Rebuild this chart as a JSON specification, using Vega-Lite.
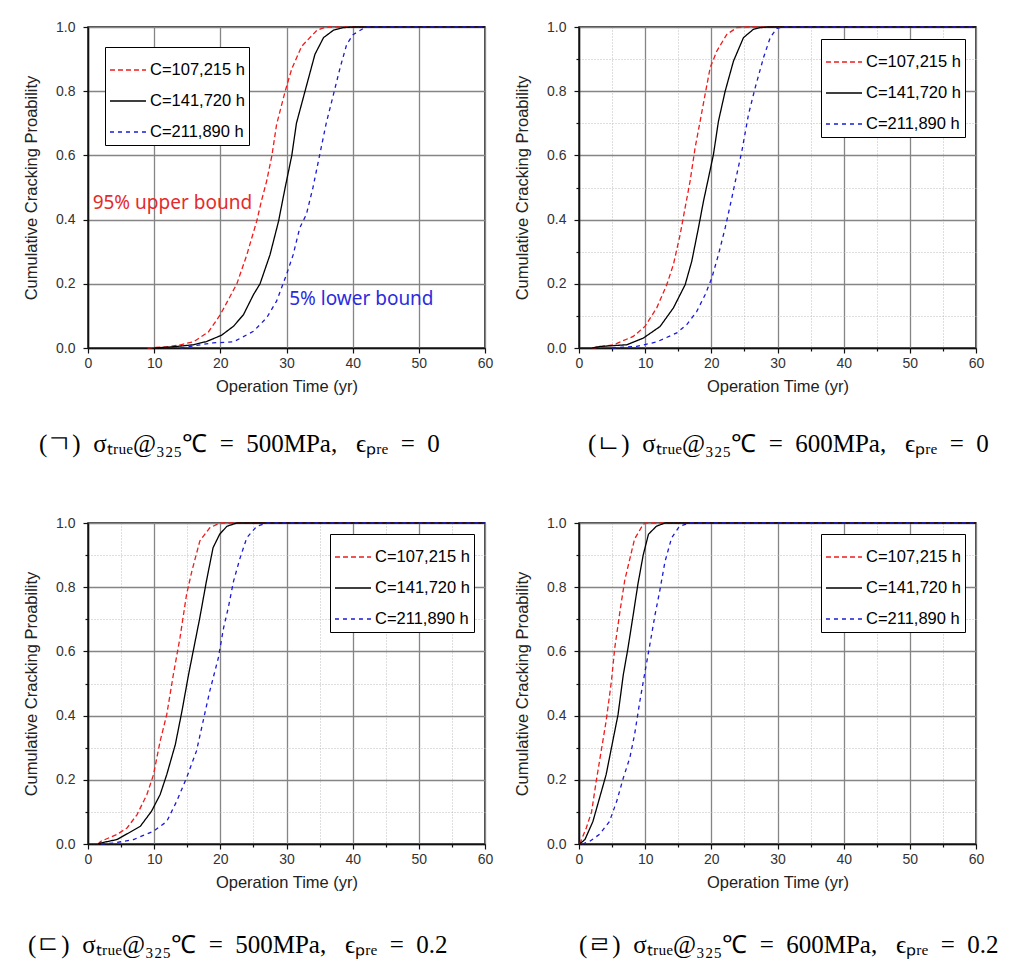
{
"$schema": "https://vega.github.io/schema/vega-lite/v6.json",
"background": "white",
"padding": {"left": 22, "top": 19, "right": 5, "bottom": 5},
"autosize": {"type": "pad"},
"datasets": {
"p1": [
{"s":"C=107,215 h","t":9,"y":0},{"s":"C=107,215 h","t":12,"y":0.004},{"s":"C=107,215 h","t":14,"y":0.01},{"s":"C=107,215 h","t":16,"y":0.02},{"s":"C=107,215 h","t":18.2,"y":0.05},{"s":"C=107,215 h","t":20,"y":0.104},{"s":"C=107,215 h","t":22.5,"y":0.2},{"s":"C=107,215 h","t":24,"y":0.29},{"s":"C=107,215 h","t":25.5,"y":0.395},{"s":"C=107,215 h","t":26.2,"y":0.457},{"s":"C=107,215 h","t":27,"y":0.52},{"s":"C=107,215 h","t":27.8,"y":0.6},{"s":"C=107,215 h","t":28.5,"y":0.696},{"s":"C=107,215 h","t":29.8,"y":0.8},{"s":"C=107,215 h","t":30.8,"y":0.87},{"s":"C=107,215 h","t":32.3,"y":0.94},{"s":"C=107,215 h","t":34.6,"y":0.99},{"s":"C=107,215 h","t":36,"y":1},{"s":"C=107,215 h","t":60,"y":1},
{"s":"C=141,720 h","t":10,"y":0},{"s":"C=141,720 h","t":13,"y":0.004},{"s":"C=141,720 h","t":15.9,"y":0.01},{"s":"C=141,720 h","t":17.9,"y":0.02},{"s":"C=141,720 h","t":20.2,"y":0.04},{"s":"C=141,720 h","t":22,"y":0.068},{"s":"C=141,720 h","t":23.5,"y":0.104},{"s":"C=141,720 h","t":25,"y":0.166},{"s":"C=141,720 h","t":26,"y":0.2},{"s":"C=141,720 h","t":27.5,"y":0.29},{"s":"C=141,720 h","t":28.8,"y":0.395},{"s":"C=141,720 h","t":29.8,"y":0.5},{"s":"C=141,720 h","t":30.8,"y":0.6},{"s":"C=141,720 h","t":31.5,"y":0.7},{"s":"C=141,720 h","t":32.8,"y":0.8},{"s":"C=141,720 h","t":34.3,"y":0.915},{"s":"C=141,720 h","t":35.6,"y":0.967},{"s":"C=141,720 h","t":37.1,"y":0.99},{"s":"C=141,720 h","t":38.6,"y":0.998},{"s":"C=141,720 h","t":40,"y":1},{"s":"C=141,720 h","t":60,"y":1},
{"s":"C=211,890 h","t":14,"y":0},{"s":"C=211,890 h","t":17,"y":0.01},{"s":"C=211,890 h","t":18.9,"y":0.016},{"s":"C=211,890 h","t":22,"y":0.019},{"s":"C=211,890 h","t":25,"y":0.052},{"s":"C=211,890 h","t":27,"y":0.094},{"s":"C=211,890 h","t":28.5,"y":0.146},{"s":"C=211,890 h","t":30,"y":0.229},{"s":"C=211,890 h","t":31,"y":0.29},{"s":"C=211,890 h","t":32,"y":0.374},{"s":"C=211,890 h","t":33,"y":0.416},{"s":"C=211,890 h","t":34,"y":0.5},{"s":"C=211,890 h","t":35,"y":0.6},{"s":"C=211,890 h","t":36,"y":0.7},{"s":"C=211,890 h","t":37.1,"y":0.79},{"s":"C=211,890 h","t":38.1,"y":0.873},{"s":"C=211,890 h","t":39.1,"y":0.946},{"s":"C=211,890 h","t":40.1,"y":0.977},{"s":"C=211,890 h","t":42,"y":1},{"s":"C=211,890 h","t":60,"y":1}
],
"p2": [
{"s":"C=107,215 h","t":2,"y":0},{"s":"C=107,215 h","t":5.2,"y":0.01},{"s":"C=107,215 h","t":8.2,"y":0.036},{"s":"C=107,215 h","t":10,"y":0.068},{"s":"C=107,215 h","t":11.75,"y":0.125},{"s":"C=107,215 h","t":13.26,"y":0.197},{"s":"C=107,215 h","t":14.27,"y":0.26},{"s":"C=107,215 h","t":15.28,"y":0.353},{"s":"C=107,215 h","t":16.04,"y":0.437},{"s":"C=107,215 h","t":16.79,"y":0.52},{"s":"C=107,215 h","t":17.55,"y":0.624},{"s":"C=107,215 h","t":18.31,"y":0.707},{"s":"C=107,215 h","t":19.06,"y":0.79},{"s":"C=107,215 h","t":19.82,"y":0.873},{"s":"C=107,215 h","t":20.83,"y":0.925},{"s":"C=107,215 h","t":22.34,"y":0.977},{"s":"C=107,215 h","t":23.85,"y":0.998},{"s":"C=107,215 h","t":25,"y":1},{"s":"C=107,215 h","t":60,"y":1},
{"s":"C=141,720 h","t":2,"y":0},{"s":"C=141,720 h","t":3.2,"y":0.005},{"s":"C=141,720 h","t":7.2,"y":0.01},{"s":"C=141,720 h","t":9.73,"y":0.031},{"s":"C=141,720 h","t":12.25,"y":0.067},{"s":"C=141,720 h","t":14.27,"y":0.125},{"s":"C=141,720 h","t":16.04,"y":0.197},{"s":"C=141,720 h","t":17.04,"y":0.27},{"s":"C=141,720 h","t":18.05,"y":0.374},{"s":"C=141,720 h","t":18.81,"y":0.457},{"s":"C=141,720 h","t":19.57,"y":0.53},{"s":"C=141,720 h","t":20.32,"y":0.603},{"s":"C=141,720 h","t":21.08,"y":0.707},{"s":"C=141,720 h","t":22.09,"y":0.8},{"s":"C=141,720 h","t":23.35,"y":0.894},{"s":"C=141,720 h","t":24.86,"y":0.967},{"s":"C=141,720 h","t":26.37,"y":0.993},{"s":"C=141,720 h","t":27.38,"y":0.998},{"s":"C=141,720 h","t":28.5,"y":1},{"s":"C=141,720 h","t":60,"y":1},
{"s":"C=211,890 h","t":5,"y":0},{"s":"C=211,890 h","t":8.72,"y":0.005},{"s":"C=211,890 h","t":11.75,"y":0.019},{"s":"C=211,890 h","t":14.78,"y":0.047},{"s":"C=211,890 h","t":16.29,"y":0.073},{"s":"C=211,890 h","t":17.8,"y":0.114},{"s":"C=211,890 h","t":19.06,"y":0.166},{"s":"C=211,890 h","t":20.07,"y":0.218},{"s":"C=211,890 h","t":21.08,"y":0.291},{"s":"C=211,890 h","t":22.09,"y":0.374},{"s":"C=211,890 h","t":23.1,"y":0.468},{"s":"C=211,890 h","t":23.85,"y":0.541},{"s":"C=211,890 h","t":24.61,"y":0.613},{"s":"C=211,890 h","t":25.62,"y":0.728},{"s":"C=211,890 h","t":26.63,"y":0.811},{"s":"C=211,890 h","t":27.89,"y":0.905},{"s":"C=211,890 h","t":28.9,"y":0.967},{"s":"C=211,890 h","t":29.9,"y":0.996},{"s":"C=211,890 h","t":31,"y":1},{"s":"C=211,890 h","t":60,"y":1}
],
"p3": [
{"s":"C=107,215 h","t":1.5,"y":0},{"s":"C=107,215 h","t":1.9,"y":0.008},{"s":"C=107,215 h","t":4.4,"y":0.03},{"s":"C=107,215 h","t":5.9,"y":0.05},{"s":"C=107,215 h","t":7.4,"y":0.091},{"s":"C=107,215 h","t":8.9,"y":0.154},{"s":"C=107,215 h","t":9.9,"y":0.216},{"s":"C=107,215 h","t":10.9,"y":0.32},{"s":"C=107,215 h","t":11.9,"y":0.403},{"s":"C=107,215 h","t":12.9,"y":0.528},{"s":"C=107,215 h","t":13.9,"y":0.642},{"s":"C=107,215 h","t":14.9,"y":0.778},{"s":"C=107,215 h","t":15.7,"y":0.85},{"s":"C=107,215 h","t":16.9,"y":0.944},{"s":"C=107,215 h","t":18.4,"y":0.985},{"s":"C=107,215 h","t":19.9,"y":1},{"s":"C=107,215 h","t":60,"y":1},
{"s":"C=141,720 h","t":1.5,"y":0},{"s":"C=141,720 h","t":1.9,"y":0.003},{"s":"C=141,720 h","t":4.4,"y":0.014},{"s":"C=141,720 h","t":7.9,"y":0.055},{"s":"C=141,720 h","t":9.6,"y":0.102},{"s":"C=141,720 h","t":10.9,"y":0.154},{"s":"C=141,720 h","t":11.9,"y":0.216},{"s":"C=141,720 h","t":13.2,"y":0.31},{"s":"C=141,720 h","t":14.2,"y":0.414},{"s":"C=141,720 h","t":15.2,"y":0.528},{"s":"C=141,720 h","t":16.2,"y":0.632},{"s":"C=141,720 h","t":16.9,"y":0.705},{"s":"C=141,720 h","t":17.9,"y":0.819},{"s":"C=141,720 h","t":18.9,"y":0.923},{"s":"C=141,720 h","t":19.9,"y":0.965},{"s":"C=141,720 h","t":21,"y":0.99},{"s":"C=141,720 h","t":22.5,"y":1},{"s":"C=141,720 h","t":60,"y":1},
{"s":"C=211,890 h","t":2,"y":0},{"s":"C=211,890 h","t":3.9,"y":0.003},{"s":"C=211,890 h","t":6.9,"y":0.014},{"s":"C=211,890 h","t":9.9,"y":0.04},{"s":"C=211,890 h","t":11.9,"y":0.07},{"s":"C=211,890 h","t":13.4,"y":0.133},{"s":"C=211,890 h","t":14.9,"y":0.206},{"s":"C=211,890 h","t":16.4,"y":0.29},{"s":"C=211,890 h","t":17.4,"y":0.383},{"s":"C=211,890 h","t":18.4,"y":0.476},{"s":"C=211,890 h","t":19.7,"y":0.58},{"s":"C=211,890 h","t":20.5,"y":0.674},{"s":"C=211,890 h","t":21.2,"y":0.736},{"s":"C=211,890 h","t":22,"y":0.819},{"s":"C=211,890 h","t":23,"y":0.892},{"s":"C=211,890 h","t":24,"y":0.954},{"s":"C=211,890 h","t":25.5,"y":0.99},{"s":"C=211,890 h","t":27,"y":1},{"s":"C=211,890 h","t":60,"y":1}
],
"p4": [
{"s":"C=107,215 h","t":0.1,"y":0},{"s":"C=107,215 h","t":1.1,"y":0.05},{"s":"C=107,215 h","t":1.9,"y":0.1},{"s":"C=107,215 h","t":2.6,"y":0.195},{"s":"C=107,215 h","t":3.1,"y":0.258},{"s":"C=107,215 h","t":4.1,"y":0.383},{"s":"C=107,215 h","t":4.9,"y":0.507},{"s":"C=107,215 h","t":5.4,"y":0.61},{"s":"C=107,215 h","t":6.2,"y":0.726},{"s":"C=107,215 h","t":6.9,"y":0.82},{"s":"C=107,215 h","t":7.7,"y":0.89},{"s":"C=107,215 h","t":8.4,"y":0.95},{"s":"C=107,215 h","t":9.7,"y":0.996},{"s":"C=107,215 h","t":10.2,"y":1},{"s":"C=107,215 h","t":60,"y":1},
{"s":"C=141,720 h","t":0.1,"y":0},{"s":"C=141,720 h","t":0.9,"y":0.014},{"s":"C=141,720 h","t":2.1,"y":0.07},{"s":"C=141,720 h","t":3.1,"y":0.143},{"s":"C=141,720 h","t":4.1,"y":0.216},{"s":"C=141,720 h","t":5.1,"y":0.32},{"s":"C=141,720 h","t":5.9,"y":0.403},{"s":"C=141,720 h","t":6.7,"y":0.528},{"s":"C=141,720 h","t":7.4,"y":0.61},{"s":"C=141,720 h","t":8.2,"y":0.715},{"s":"C=141,720 h","t":8.9,"y":0.809},{"s":"C=141,720 h","t":9.7,"y":0.9},{"s":"C=141,720 h","t":10.5,"y":0.965},{"s":"C=141,720 h","t":11.7,"y":0.99},{"s":"C=141,720 h","t":13,"y":1},{"s":"C=141,720 h","t":60,"y":1},
{"s":"C=211,890 h","t":0.5,"y":0},{"s":"C=211,890 h","t":1.6,"y":0.008},{"s":"C=211,890 h","t":3.1,"y":0.03},{"s":"C=211,890 h","t":4.6,"y":0.07},{"s":"C=211,890 h","t":5.7,"y":0.133},{"s":"C=211,890 h","t":6.7,"y":0.206},{"s":"C=211,890 h","t":7.7,"y":0.27},{"s":"C=211,890 h","t":8.4,"y":0.341},{"s":"C=211,890 h","t":9.2,"y":0.445},{"s":"C=211,890 h","t":9.9,"y":0.528},{"s":"C=211,890 h","t":10.7,"y":0.62},{"s":"C=211,890 h","t":11.5,"y":0.715},{"s":"C=211,890 h","t":12.2,"y":0.788},{"s":"C=211,890 h","t":13,"y":0.88},{"s":"C=211,890 h","t":14,"y":0.954},{"s":"C=211,890 h","t":15.2,"y":0.99},{"s":"C=211,890 h","t":16.8,"y":1},{"s":"C=211,890 h","t":60,"y":1}
],
"upper": [{"t": 0.7, "y": 0.453, "note": "95% upper bound"}],
"lower": [{"t": 30.4, "y": 0.153, "note": "5% lower bound"}]
},
"columns": 2,
"spacing": {"row": 175, "column": 94},
"bounds": "flush",
"resolve": {"scale": {"color": "independent", "strokeDash": "independent"}, "legend": {"color": "independent", "strokeDash": "independent"}},
"concat": [
{
"width": 397, "height": 321,
"title": {"text": "(ㄱ)\u00a0 σₜᵣᵤₑ@₃₂₅℃\u00a0 =\u00a0 500MPa,\u00a0\u00a0 ϵₚᵣₑ\u00a0 =\u00a0 0", "dx": -49, "offset": 37},
"layer": [
{"data": {"name": "p1"}, "mark": {"type": "line", "strokeWidth": 1.3},
"encoding": {
"x": {"field": "t", "type": "quantitative", "scale": {"domain": [0, 60], "nice": false}, "axis": {"title": "Operation Time (yr)", "values": [0,5,10,15,20,25,30,35,40,45,50,55,60], "labelExpr": "datum.value % 10 === 0 ? datum.label : ''", "gridColor": {"condition": {"test": "datum.value % 10 !== 0", "value": "#bdbdbd"}, "value": "#858585"}, "gridDash": {"condition": {"test": "datum.value % 10 !== 0", "value": [1, 2]}, "value": []}, "gridWidth": {"condition": {"test": "datum.value % 10 !== 0", "value": 1}, "value": 1.3}, "tickSize": {"condition": {"test": "datum.value % 10 !== 0", "value": 3}, "value": 5}}},
"y": {"field": "y", "type": "quantitative", "scale": {"domain": [0, 1], "nice": false}, "axis": {"title": "Cumulative Cracking Proability", "values": [0,0.1,0.2,0.3,0.4,0.5,0.6,0.7,0.8,0.9,1], "format": ".1f", "labelExpr": "round(datum.value*10) % 2 === 0 ? datum.label : ''", "gridColor": {"condition": {"test": "round(datum.value*10) % 2 !== 0", "value": "#bdbdbd"}, "value": "#858585"}, "gridDash": {"condition": {"test": "round(datum.value*10) % 2 !== 0", "value": [1, 2]}, "value": []}, "gridWidth": {"condition": {"test": "round(datum.value*10) % 2 !== 0", "value": 1}, "value": 1.3}, "tickSize": {"condition": {"test": "round(datum.value*10) % 2 !== 0", "value": 3}, "value": 5}}},
"color": {"field": "s", "type": "nominal", "scale": {"domain": ["C=107,215 h", "C=141,720 h", "C=211,890 h"], "range": ["#ee1c1c", "#000000", "#1a1ad6"]}, "legend": {"orient": "none", "legendX": 17, "legendY": 20}},
"strokeDash": {"field": "s", "type": "nominal", "scale": {"domain": ["C=107,215 h", "C=141,720 h", "C=211,890 h"], "range": [[5, 3], [1, 0], [4, 4]]}, "legend": {"orient": "none", "legendX": 17, "legendY": 20}}
}},
{"data": {"name": "upper"}, "mark": {"type": "text", "align": "left", "baseline": "middle", "font": "Noto Sans", "fontSize": 19, "color": "#e52b2b"},
"encoding": {"x": {"field": "t", "type": "quantitative"}, "y": {"field": "y", "type": "quantitative"}, "text": {"field": "note"}}},
{"data": {"name": "lower"}, "mark": {"type": "text", "align": "left", "baseline": "middle", "font": "Noto Sans", "fontSize": 19, "color": "#2b2be0"},
"encoding": {"x": {"field": "t", "type": "quantitative"}, "y": {"field": "y", "type": "quantitative"}, "text": {"field": "note"}}}
]
},
{
"width": 397, "height": 321,
"title": {"text": "(ㄴ)\u00a0 σₜᵣᵤₑ@₃₂₅℃\u00a0 =\u00a0 600MPa,\u00a0\u00a0 ϵₚᵣₑ\u00a0 =\u00a0 0", "dx": 9, "offset": 37},
"layer": [
{"data": {"name": "p2"}, "mark": {"type": "line", "strokeWidth": 1.3},
"encoding": {
"x": {"field": "t", "type": "quantitative", "scale": {"domain": [0, 60], "nice": false}, "axis": {"title": "Operation Time (yr)", "values": [0,5,10,15,20,25,30,35,40,45,50,55,60], "labelExpr": "datum.value % 10 === 0 ? datum.label : ''", "gridColor": {"condition": {"test": "datum.value % 10 !== 0", "value": "#bdbdbd"}, "value": "#858585"}, "gridDash": {"condition": {"test": "datum.value % 10 !== 0", "value": [1, 2]}, "value": []}, "gridWidth": {"condition": {"test": "datum.value % 10 !== 0", "value": 1}, "value": 1.3}, "tickSize": {"condition": {"test": "datum.value % 10 !== 0", "value": 3}, "value": 5}}},
"y": {"field": "y", "type": "quantitative", "scale": {"domain": [0, 1], "nice": false}, "axis": {"title": "Cumulative Cracking Proability", "values": [0,0.1,0.2,0.3,0.4,0.5,0.6,0.7,0.8,0.9,1], "format": ".1f", "labelExpr": "round(datum.value*10) % 2 === 0 ? datum.label : ''", "gridColor": {"condition": {"test": "round(datum.value*10) % 2 !== 0", "value": "#bdbdbd"}, "value": "#858585"}, "gridDash": {"condition": {"test": "round(datum.value*10) % 2 !== 0", "value": [1, 2]}, "value": []}, "gridWidth": {"condition": {"test": "round(datum.value*10) % 2 !== 0", "value": 1}, "value": 1.3}, "tickSize": {"condition": {"test": "round(datum.value*10) % 2 !== 0", "value": 3}, "value": 5}}},
"color": {"field": "s", "type": "nominal", "scale": {"domain": ["C=107,215 h", "C=141,720 h", "C=211,890 h"], "range": ["#ee1c1c", "#000000", "#1a1ad6"]}, "legend": {"orient": "none", "legendX": 242, "legendY": 12}},
"strokeDash": {"field": "s", "type": "nominal", "scale": {"domain": ["C=107,215 h", "C=141,720 h", "C=211,890 h"], "range": [[5, 3], [1, 0], [4, 4]]}, "legend": {"orient": "none", "legendX": 242, "legendY": 12}}
}}
]
},
{
"width": 397, "height": 321,
"title": {"text": "(ㄷ)\u00a0 σₜᵣᵤₑ@₃₂₅℃\u00a0 =\u00a0 500MPa,\u00a0\u00a0 ϵₚᵣₑ\u00a0 =\u00a0 0.2", "dx": -60, "offset": 42},
"layer": [
{"data": {"name": "p3"}, "mark": {"type": "line", "strokeWidth": 1.3},
"encoding": {
"x": {"field": "t", "type": "quantitative", "scale": {"domain": [0, 60], "nice": false}, "axis": {"title": "Operation Time (yr)", "values": [0,5,10,15,20,25,30,35,40,45,50,55,60], "labelExpr": "datum.value % 10 === 0 ? datum.label : ''", "gridColor": {"condition": {"test": "datum.value % 10 !== 0", "value": "#bdbdbd"}, "value": "#858585"}, "gridDash": {"condition": {"test": "datum.value % 10 !== 0", "value": [1, 2]}, "value": []}, "gridWidth": {"condition": {"test": "datum.value % 10 !== 0", "value": 1}, "value": 1.3}, "tickSize": {"condition": {"test": "datum.value % 10 !== 0", "value": 3}, "value": 5}}},
"y": {"field": "y", "type": "quantitative", "scale": {"domain": [0, 1], "nice": false}, "axis": {"title": "Cumulative Cracking Proability", "values": [0,0.1,0.2,0.3,0.4,0.5,0.6,0.7,0.8,0.9,1], "format": ".1f", "labelExpr": "round(datum.value*10) % 2 === 0 ? datum.label : ''", "gridColor": {"condition": {"test": "round(datum.value*10) % 2 !== 0", "value": "#bdbdbd"}, "value": "#858585"}, "gridDash": {"condition": {"test": "round(datum.value*10) % 2 !== 0", "value": [1, 2]}, "value": []}, "gridWidth": {"condition": {"test": "round(datum.value*10) % 2 !== 0", "value": 1}, "value": 1.3}, "tickSize": {"condition": {"test": "round(datum.value*10) % 2 !== 0", "value": 3}, "value": 5}}},
"color": {"field": "s", "type": "nominal", "scale": {"domain": ["C=107,215 h", "C=141,720 h", "C=211,890 h"], "range": ["#ee1c1c", "#000000", "#1a1ad6"]}, "legend": {"orient": "none", "legendX": 242, "legendY": 11}},
"strokeDash": {"field": "s", "type": "nominal", "scale": {"domain": ["C=107,215 h", "C=141,720 h", "C=211,890 h"], "range": [[5, 3], [1, 0], [4, 4]]}, "legend": {"orient": "none", "legendX": 242, "legendY": 11}}
}}
]
},
{
"width": 397, "height": 321,
"title": {"text": "(ㄹ)\u00a0 σₜᵣᵤₑ@₃₂₅℃\u00a0 =\u00a0 600MPa,\u00a0\u00a0 ϵₚᵣₑ\u00a0 =\u00a0 0.2", "dx": 0, "offset": 42},
"layer": [
{"data": {"name": "p4"}, "mark": {"type": "line", "strokeWidth": 1.3},
"encoding": {
"x": {"field": "t", "type": "quantitative", "scale": {"domain": [0, 60], "nice": false}, "axis": {"title": "Operation Time (yr)", "values": [0,5,10,15,20,25,30,35,40,45,50,55,60], "labelExpr": "datum.value % 10 === 0 ? datum.label : ''", "gridColor": {"condition": {"test": "datum.value % 10 !== 0", "value": "#bdbdbd"}, "value": "#858585"}, "gridDash": {"condition": {"test": "datum.value % 10 !== 0", "value": [1, 2]}, "value": []}, "gridWidth": {"condition": {"test": "datum.value % 10 !== 0", "value": 1}, "value": 1.3}, "tickSize": {"condition": {"test": "datum.value % 10 !== 0", "value": 3}, "value": 5}}},
"y": {"field": "y", "type": "quantitative", "scale": {"domain": [0, 1], "nice": false}, "axis": {"title": "Cumulative Cracking Proability", "values": [0,0.1,0.2,0.3,0.4,0.5,0.6,0.7,0.8,0.9,1], "format": ".1f", "labelExpr": "round(datum.value*10) % 2 === 0 ? datum.label : ''", "gridColor": {"condition": {"test": "round(datum.value*10) % 2 !== 0", "value": "#bdbdbd"}, "value": "#858585"}, "gridDash": {"condition": {"test": "round(datum.value*10) % 2 !== 0", "value": [1, 2]}, "value": []}, "gridWidth": {"condition": {"test": "round(datum.value*10) % 2 !== 0", "value": 1}, "value": 1.3}, "tickSize": {"condition": {"test": "round(datum.value*10) % 2 !== 0", "value": 3}, "value": 5}}},
"color": {"field": "s", "type": "nominal", "scale": {"domain": ["C=107,215 h", "C=141,720 h", "C=211,890 h"], "range": ["#ee1c1c", "#000000", "#1a1ad6"]}, "legend": {"orient": "none", "legendX": 242, "legendY": 11}},
"strokeDash": {"field": "s", "type": "nominal", "scale": {"domain": ["C=107,215 h", "C=141,720 h", "C=211,890 h"], "range": [[5, 3], [1, 0], [4, 4]]}, "legend": {"orient": "none", "legendX": 242, "legendY": 11}}
}}
]
}
],
"config": {
"view": {"stroke": "#111111", "strokeWidth": 1.5},
"axis": {"domainColor": "#111111", "domainWidth": 1.5, "tickColor": "#111111", "tickWidth": 1.2, "labelFont": "Liberation Sans", "labelFontSize": 14, "labelColor": "#333333", "labelPadding": 3, "labelFlush": false, "labelOverlap": false, "titleFont": "Liberation Sans", "titleFontSize": 16.5, "titleFontWeight": "normal", "titleColor": "#222222", "titlePadding": 8},
"axisY": {"labelPadding": 8, "titlePadding": 16},
"legend": {"title": null, "symbolType": "stroke", "symbolSize": 1300, "symbolStrokeWidth": 1.5, "labelFont": "Liberation Sans", "labelFontSize": 16.5, "labelColor": "#000000", "labelOffset": 3, "rowPadding": 3, "padding": 4, "strokeColor": "#000000", "fillColor": "#ffffff"},
"title": {"font": "Liberation Serif", "fontSize": 25, "fontWeight": "normal", "color": "#000000", "orient": "bottom", "anchor": "start", "frame": "group"}
}
}
